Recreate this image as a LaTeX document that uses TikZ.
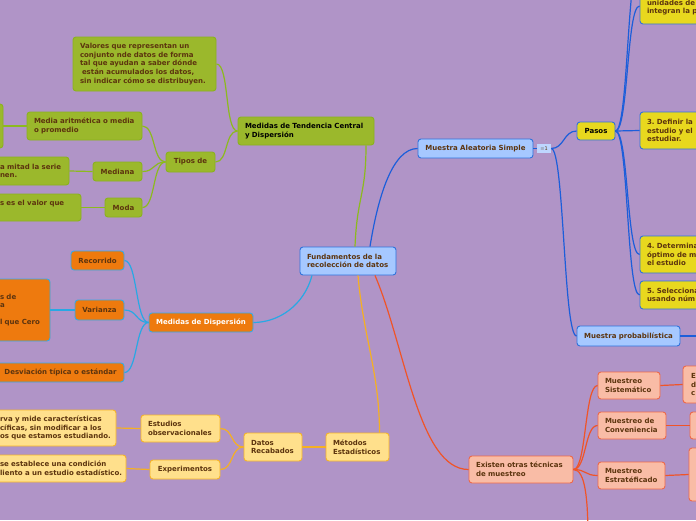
\documentclass[tikz,border=0pt]{standalone}
\usepackage{fontspec}
\setmainfont{DejaVu Sans}
\usetikzlibrary{positioning}
\definecolor{bgPurple}{RGB}{176,148,199}
\definecolor{txtBrown}{RGB}{92,52,14}
\definecolor{gFill}{RGB}{155,184,44}
\definecolor{gEdge}{RGB}{138,178,30}
\definecolor{gWire}{RGB}{140,186,30}
\definecolor{oFill}{RGB}{238,122,14}
\definecolor{oEdge}{RGB}{52,170,230}
\definecolor{oWire}{RGB}{40,168,228}
\definecolor{yFill}{RGB}{255,224,140}
\definecolor{yEdge}{RGB}{246,180,40}
\definecolor{yWire}{RGB}{245,176,34}
\definecolor{bFill}{RGB}{166,200,255}
\definecolor{bEdge}{RGB}{46,114,220}
\definecolor{bWire}{RGB}{28,94,218}
\definecolor{pFill}{RGB}{232,216,30}
\definecolor{sFill}{RGB}{249,188,166}
\definecolor{sEdge}{RGB}{238,104,72}
\definecolor{sWire}{RGB}{240,84,40}
\definecolor{iconBlue}{RGB}{190,214,255}
\newcommand{\mapfont}{\fontsize{7}{8.6}\selectfont\bfseries\frenchspacing}
\tikzset{
    mapbox/.style={draw, rounded corners=3pt, line width=0.9pt, font=\mapfont,
        text=txtBrown, inner xsep=7pt, inner ysep=0pt, align=left},
    tendbox/.style={mapbox, fill=gFill, draw=gEdge},
    dispbox/.style={mapbox, fill=oFill, draw=oEdge},
    metbox/.style={mapbox, fill=yFill, draw=yEdge},
    muesbox/.style={mapbox, fill=bFill, draw=bEdge},
    pasobox/.style={mapbox, fill=pFill, draw=bEdge},
    tecbox/.style={mapbox, fill=sFill, draw=sEdge},
    wire/.style={line width=1.2pt, distance=13pt},
    tendwire/.style={wire, draw=gWire},
    dispwire/.style={wire, draw=oWire},
    metwire/.style={wire, draw=yWire},
    mueswire/.style={wire, draw=bWire},
    tecwire/.style={wire, draw=sWire}
}
\begin{document}
\begin{tikzpicture}[x=1pt, y=-1pt]
    \useasboundingbox (0,0) rectangle (696,520);
    \clip (0,0) rectangle (696,520);
    \fill[bgPurple] (0,0) rectangle (696,520);

    \node[muesbox, minimum width=96pt, minimum height=28pt, text width=82pt] (fund) at (348,261) {Fundamentos de la\\recolección de datos};

    \node[tendbox, text=black, minimum width=134pt, minimum height=28pt, text width=122pt] (tendencia) at (306,131) {Medidas de Tendencia Central\\y Dispersión};
    \node[tendbox, minimum width=141pt, minimum height=54pt, text width=129pt] (valores) at (144.5,64) {Valores que representan un\\conjunto nde datos de forma\\tal que ayudan a saber dónde\\\hspace{2pt}están acumulados los datos,\\sin indicar cómo se distribuyen.};
    \node[tendbox, minimum width=49pt, minimum height=20pt] (tipos) at (190.5,162) {Tipos de};
    \node[tendbox, minimum width=115pt, minimum height=28pt, text width=101pt] (media) at (84.5,126) {Media aritmética o media\\o promedio};
    \node[tendbox, minimum width=63pt, minimum height=44pt] (medialeft) at (-28.5,126) {};
    \node[tendbox, minimum width=49pt, minimum height=19pt] (mediana) at (117.5,171.5) {Mediana};
    \node[tendbox, minimum width=76pt, minimum height=28pt, text width=62pt] (medianaleft) at (31,171) {a mitad la serie\\nen.};
    \node[tendbox, minimum width=37pt, minimum height=19pt] (moda) at (123.5,207.5) {Moda};
    \node[tendbox, minimum width=88pt, minimum height=27pt, text width=74pt] (modaleft) at (37,207.5) {s es el valor que\\\mbox{}};

    \node[dispbox, text=white, minimum width=104pt, minimum height=19pt] (dispersion) at (201,322.5) {Medidas de Dispersión};
    \node[dispbox, minimum width=53pt, minimum height=19pt] (recorrido) at (97.5,260.5) {Recorrido};
    \node[dispbox, minimum width=49pt, minimum height=20pt] (varianza) at (99.5,310) {Varianza};
    \node[dispbox, minimum width=57pt, minimum height=62pt, text width=43pt] (varleft) at (21.5,310) {s de\\a\\\mbox{}\\l que Cero};
    \node[dispbox, minimum width=127pt, minimum height=19pt] (desviacion) at (60.5,372.5) {Desviación típica o estándar};

    \node[metbox, minimum width=63pt, minimum height=28pt, text width=49pt] (metodos) at (357.5,447) {Métodos\\Estadísticos};
    \node[metbox, minimum width=58pt, minimum height=28pt, text width=44pt] (datos) at (273,447) {Datos\\Recabados};
    \node[metbox, minimum width=79pt, minimum height=27pt, text width=65pt] (estudios) at (180.5,428.5) {Estudios\\observacionales};
    \node[metbox, minimum width=70pt, minimum height=19pt] (experimentos) at (185,469.5) {Experimentos};
    \node[metbox, minimum width=123pt, minimum height=36pt, text width=109pt] (estleft) at (54.5,428) {\mbox{rva y mide características}\\\mbox{cíficas, sin modificar a los}\\\mbox{os que estamos estudiando.}};
    \node[metbox, minimum width=133pt, minimum height=27pt, text width=119pt] (expleft) at (59.5,468.5) {\mbox{se establece una condición}\\\mbox{liento a un estudio estadístico.}};

    \node[muesbox, minimum width=115pt, minimum height=19pt] (aleatoria) at (475.5,148.5) {Muestra Aleatoria Simple};
    \node[fill=iconBlue, minimum width=14pt, minimum height=9pt, inner sep=0pt, font=\fontsize{5}{5}\selectfont] (nota) at (544,148.5) {\textcolor{gray}{≡}\textcolor{txtBrown}{1}};
    \node[pasobox, text=black, minimum width=38pt, minimum height=18pt] (pasos) at (596,131) {Pasos};
    \node[pasobox, minimum width=100pt, minimum height=36pt, text width=86pt] (paso2) at (690,6) {\mbox{}\\unidades de\\integran la p};
    \node[pasobox, minimum width=100pt, minimum height=37pt, text width=86pt] (paso3) at (690,130.5) {3. Definir la\\estudio y el\\estudiar.};
    \node[pasobox, minimum width=100pt, minimum height=37pt, text width=86pt] (paso4) at (690,254.5) {4. Determina\\óptimo de m\\el estudio};
    \node[pasobox, minimum width=100pt, minimum height=28pt, text width=86pt] (paso5) at (690,295) {5. Selecciona\\usando núm};
    \node[muesbox, minimum width=103pt, minimum height=20pt] (probabilistica) at (628.5,336) {Muestra probabilística};
    \coordinate (paso1) at (640,-40);
    \coordinate (probend) at (700,336);

    \node[tecbox, minimum width=104pt, minimum height=27pt, text width=90pt] (otras) at (521,469.5) {Existen otras técnicas\\de muestreo};
    \node[tecbox, minimum width=62pt, minimum height=27pt, text width=48pt] (sistematico) at (629,385.5) {Muestreo\\Sistemático};
    \node[tecbox, minimum width=68pt, minimum height=27pt, text width=54pt] (conveniencia) at (632,425.5) {Muestreo de\\Conveniencia};
    \node[tecbox, minimum width=67pt, minimum height=27pt, text width=53pt] (estratificado) at (631.5,475.5) {Muestreo\\Estratéficado};
    \node[tecbox, inner xsep=8pt, minimum width=77pt, minimum height=37pt, text width=61pt] (sisright) at (721.5,384.5) {E\\d\\c};
    \node[tecbox, minimum width=70pt, minimum height=27pt] (convright) at (725,425.5) {};
    \node[tecbox, minimum width=71pt, minimum height=53pt] (estrright) at (724.5,474.5) {};
    \coordinate (otrasend) at (588,540);

    \draw[tendwire] ([xshift=7pt]fund.north) .. controls +(2,-50) and +(0,50) .. ([xshift=60pt]tendencia.south);
    \draw[mueswire] ([xshift=22pt]fund.north) .. controls +(8,-50) and +(-25,0) .. (aleatoria.west);
    \draw[dispwire] ([xshift=-36pt]fund.south) .. controls +(-8,30) and +(25,0) .. (dispersion.east);
    \draw[metwire] ([xshift=10pt]fund.south) .. controls +(5,60) and +(0,-60) .. ([xshift=22pt]metodos.north);
    \draw[tecwire] ([xshift=27pt]fund.south) .. controls +(30,70) and +(-50,0) .. (otras.west);

    \foreach \c in {valores,tipos}
        \draw[tendwire] (tendencia.west) to[out=180,in=0] (\c.east);
    \foreach \c in {media,mediana,moda}
        \draw[tendwire] (tipos.west) to[out=180,in=0] (\c.east);
    \draw[tendwire] (media.west) -- (medialeft.east);
    \draw[tendwire] (mediana.west) -- (medianaleft.east);
    \draw[tendwire] (moda.west) -- (modaleft.east);

    \foreach \c in {recorrido,varianza,desviacion}
        \draw[dispwire] (dispersion.west) to[out=180,in=0] (\c.east);
    \draw[dispwire] (varianza.west) -- (varleft.east);

    \draw[metwire] (metodos.west) -- (datos.east);
    \foreach \c in {estudios,experimentos}
        \draw[metwire] (datos.west) to[out=180,in=0] (\c.east);
    \draw[metwire] (estudios.west) -- (estleft.east);
    \draw[metwire] (experimentos.west) -- (expleft.east);

    \draw[mueswire] (aleatoria.east) -- (nota.west);
    \foreach \c in {pasos,probabilistica}
        \draw[mueswire] (nota.east) to[out=0,in=180] (\c.west);
    \draw[mueswire] (pasos.east) to[out=0,in=180] (paso1);
    \foreach \c in {paso2,paso3,paso4,paso5}
        \draw[mueswire] (pasos.east) to[out=0,in=180] (\c.west);
    \draw[mueswire] (probabilistica.east) -- (probend);

    \foreach \c in {sistematico,conveniencia,estratificado}
        \draw[tecwire] (otras.east) to[out=0,in=180] (\c.west);
    \draw[tecwire] (otras.east) .. controls +(12,0) and +(0,-40) .. (otrasend);
    \draw[tecwire] (sistematico.east) -- (sisright.west);
    \draw[tecwire] (conveniencia.east) -- (convright.west);
    \draw[tecwire] (estratificado.east) -- (estrright.west);
\end{tikzpicture}
\end{document}
